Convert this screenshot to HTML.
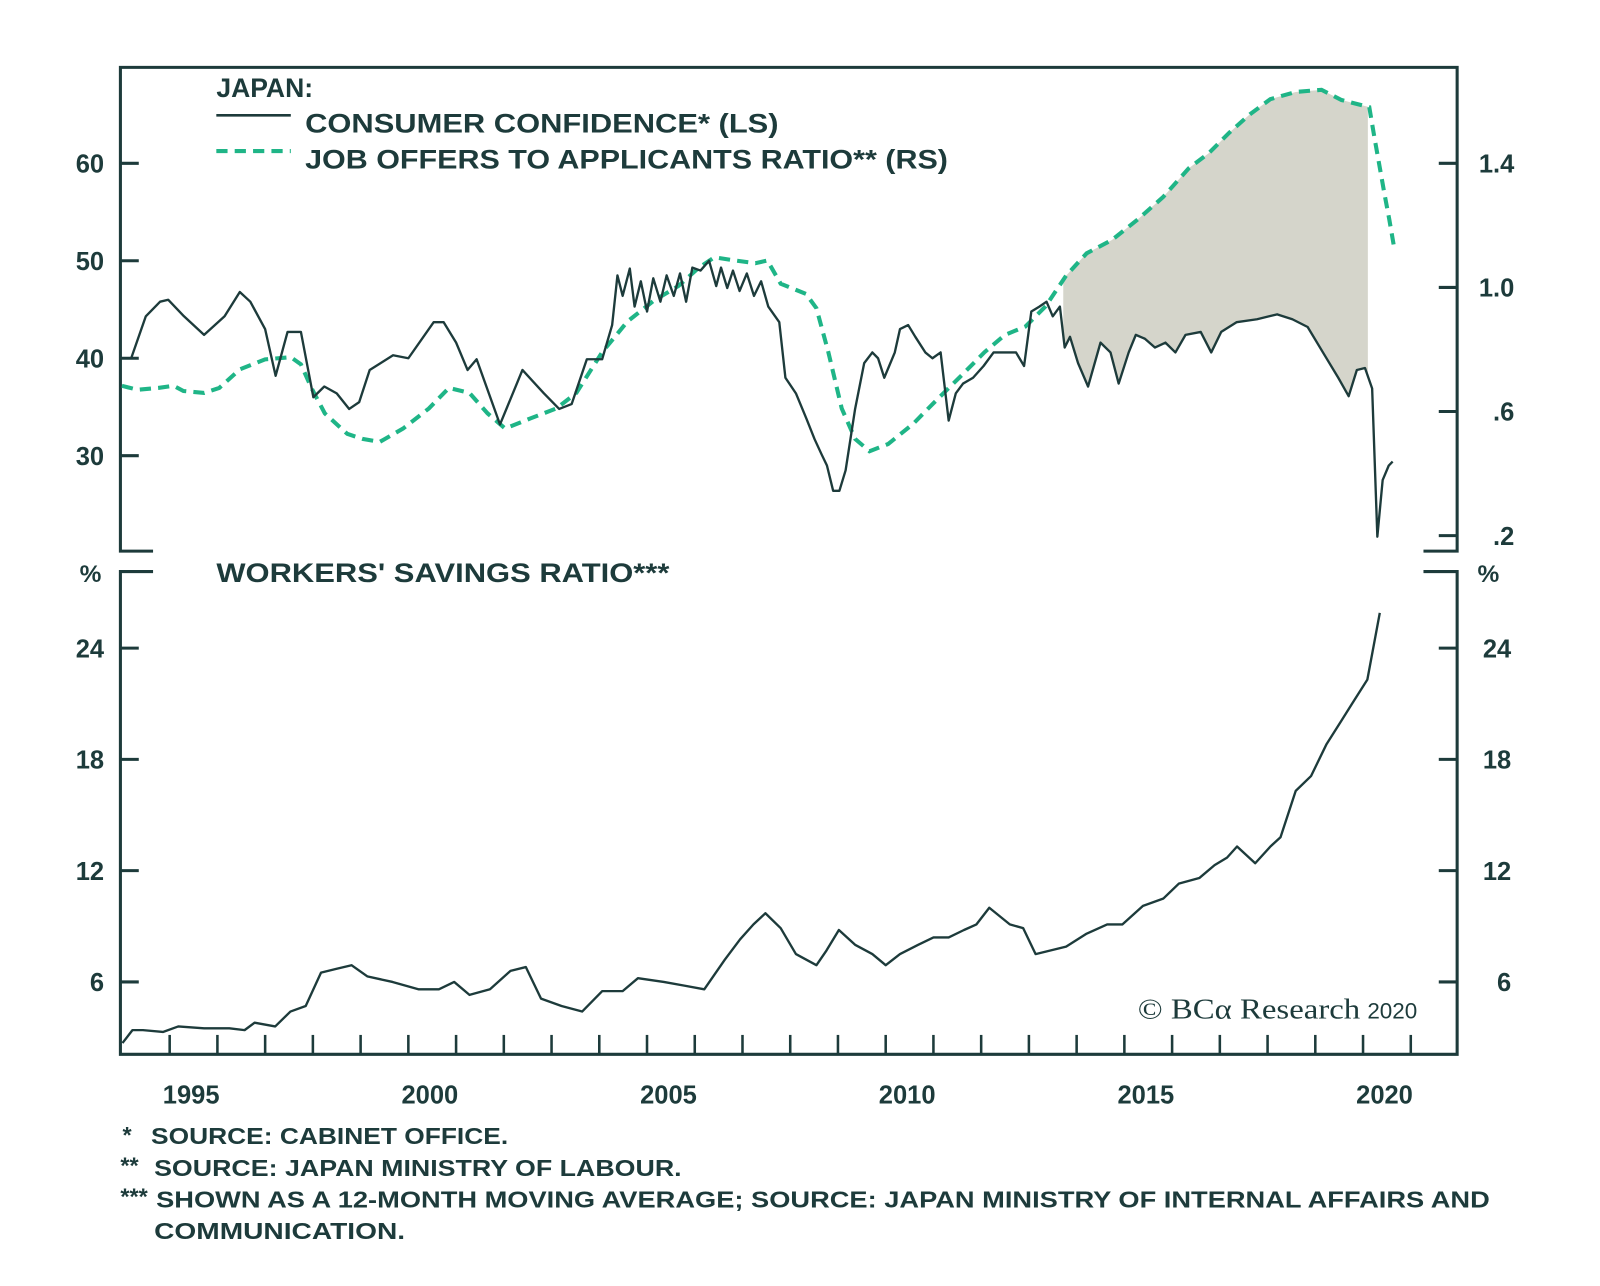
<!DOCTYPE html>
<html><head><meta charset="utf-8">
<style>
html,body{margin:0;padding:0;background:#fff;}
svg{display:block;}
text{font-family:"Liberation Sans",sans-serif;fill:#1d3b3b;font-weight:bold;}
</style></head>
<body>
<svg id="chart" width="1600" height="1286" viewBox="0 0 1568 1260" preserveAspectRatio="none" xmlns="http://www.w3.org/2000/svg">
<g id="frame" stroke="#1d3b3b" stroke-width="3" fill="none">
  <path d="M150,540 L118,540 L118,66 L1428,66 L1428,540 L1395,540"/>
  <path d="M150,560 L118,560 L118,1033 L1428,1033 L1428,560 L1395,560"/>
</g>
<g id="axes"></g>
<g id="series"></g>
<g>
  <text x="212" y="95" font-size="26">JAPAN:</text>
  <line x1="212" y1="113" x2="285" y2="113" stroke="#1d3b3b" stroke-width="2.5"/>
  <text x="299" y="130" font-size="26" textLength="464" lengthAdjust="spacingAndGlyphs">CONSUMER CONFIDENCE* (LS)</text>
  <line x1="212" y1="148" x2="285" y2="148" stroke="#1fb587" stroke-width="4" stroke-dasharray="11,7"/>
  <text x="299" y="165" font-size="26" textLength="630" lengthAdjust="spacingAndGlyphs">JOB OFFERS TO APPLICANTS RATIO** (RS)</text>
</g>
<text x="212" y="570" font-size="26" textLength="444" lengthAdjust="spacingAndGlyphs">WORKERS' SAVINGS RATIO***</text>
<text x="78" y="570" font-size="24">%</text>
<text x="1448" y="570" font-size="24">%</text>
<text x="1115" y="998" font-size="28" style="font-family:'Liberation Serif',serif;font-weight:normal" textLength="218" lengthAdjust="spacingAndGlyphs">© BCα Research</text>
<text x="1340" y="998" font-size="22" style="font-weight:normal">2020</text>
<g font-size="23">
  <text x="120" y="1120">*</text>
  <text x="148" y="1121" textLength="350" lengthAdjust="spacingAndGlyphs">SOURCE: CABINET OFFICE.</text>
  <text x="118" y="1150">**</text>
  <text x="151" y="1152" textLength="517" lengthAdjust="spacingAndGlyphs">SOURCE: JAPAN MINISTRY OF LABOUR.</text>
  <text x="118" y="1180">***</text>
  <text x="153" y="1183" textLength="1307" lengthAdjust="spacingAndGlyphs">SHOWN AS A 12-MONTH MOVING AVERAGE; SOURCE: JAPAN MINISTRY OF INTERNAL AFFAIRS AND</text>
  <text x="151" y="1214" textLength="246" lengthAdjust="spacingAndGlyphs">COMMUNICATION.</text>
</g>
</svg>
<script>
// ---- data ----
const ccTimes = [1994.2,1994.5,1994.8,1994.97,1995.3,1995.72,1996.15,1996.47,1996.69,1997.0,1997.22,1997.47,1997.75,1998.01,1998.24,1998.5,1998.76,1998.97,1999.19,1999.68,2000.0,2000.53,2000.74,2001.0,2001.24,2001.43,2001.92,2002.39,2002.84,2003.16,2003.42,2003.74,2004.06,2004.27,2004.38,2004.49,2004.64,2004.74,2004.87,2005.0,2005.13,2005.28,2005.41,2005.56,2005.69,2005.82,2005.95,2006.12,2006.3,2006.45,2006.55,2006.68,2006.8,2006.94,2007.09,2007.24,2007.39,2007.54,2007.77,2007.9,2008.12,2008.34,2008.51,2008.66,2008.77,2008.9,2009.03,2009.16,2009.36,2009.55,2009.72,2009.84,2009.97,2010.19,2010.3,2010.47,2010.62,2010.83,2010.98,2011.15,2011.32,2011.47,2011.62,2011.83,2012.05,2012.26,2012.47,2012.73,2012.9,2013.05,2013.22,2013.37,2013.5,2013.65,2013.75,2013.86,2014.03,2014.24,2014.5,2014.71,2014.88,2015.09,2015.24,2015.43,2015.64,2015.86,2016.07,2016.28,2016.6,2016.82,2017.03,2017.35,2017.78,2018.2,2018.52,2018.84,2019.16,2019.48,2019.7,2019.87,2020.04,2020.19,2020.3,2020.41,2020.54,2020.62,2020.77];
const ccValues = [40.1,44.3,45.8,46,44.3,42.4,44.3,46.8,45.8,43,38.2,42.7,42.7,36,37.1,36.4,34.8,35.5,38.8,40.3,40,43.7,43.7,41.6,38.8,39.9,33.2,38.8,36.4,34.8,35.3,39.9,39.9,43.4,48.5,46.4,49.2,45.3,47.9,44.8,48.2,45.8,48.5,46.4,48.7,45.8,49.3,49,50,47.4,49.3,47.2,49,46.9,48.7,46.4,47.9,45.3,43.7,38,36.4,33.8,31.7,30.1,29,26.4,26.4,28.5,34.8,39.5,40.6,40,38,40.6,43,43.4,42.2,40.6,40,40.6,33.6,36.4,37.4,38,39.2,40.6,40.6,40.6,39.2,44.8,45.3,45.8,44.3,45.3,41.1,42.2,39.5,37.1,41.6,40.6,37.4,40.6,42.4,42,41.1,41.6,40.6,42.4,42.7,40.6,42.7,43.7,44,44.5,44,43.2,40.6,38,36.1,38.8,39,36.9,21.7,27.5,29,29.4];
const joTimes = [1994.0,1994.33,1994.76,1995.08,1995.29,1995.72,1996.04,1996.47,1997.0,1997.54,1997.75,1997.97,1998.25,1998.72,1999.04,1999.4,1999.89,2000.43,2000.85,2001.28,2001.66,2002.03,2002.56,2003.1,2003.52,2004.06,2004.59,2005.13,2005.66,2006.09,2006.41,2006.84,2007.27,2007.52,2007.8,2008.33,2008.55,2008.8,2009.08,2009.36,2009.66,2010.05,2010.58,2011.0,2011.54,2012.07,2012.5,2012.93,2013.35,2013.78,2014.21,2014.74,2015.28,2015.81,2016.35,2016.77,2017.2,2017.63,2018.06,2018.59,2019.13,2019.55,2020.13,2020.24,2020.45,2020.55,2020.66];
const joValues = [0.683,0.67,0.676,0.683,0.666,0.66,0.676,0.736,0.768,0.775,0.752,0.676,0.594,0.528,0.512,0.502,0.545,0.61,0.676,0.66,0.594,0.545,0.578,0.61,0.66,0.791,0.89,0.956,1.005,1.064,1.097,1.087,1.078,1.087,1.012,0.979,0.933,0.791,0.61,0.512,0.472,0.495,0.561,0.627,0.709,0.791,0.847,0.874,0.939,1.038,1.11,1.153,1.219,1.291,1.384,1.433,1.499,1.558,1.607,1.63,1.637,1.604,1.581,1.482,1.301,1.219,1.12];
const svTimes = [1994.01,1994.22,1994.44,1994.86,1995.18,1995.72,1996.25,1996.57,1996.78,1997.21,1997.53,1997.85,1998.17,1998.49,1998.81,1999.14,1999.67,2000.21,2000.64,2000.96,2001.28,2001.71,2002.14,2002.46,2002.78,2003.21,2003.64,2004.06,2004.49,2004.81,2005.35,2005.78,2006.2,2006.63,2006.95,2007.23,2007.48,2007.8,2008.12,2008.55,2008.76,2009.02,2009.36,2009.72,2010.0,2010.3,2010.68,2011.0,2011.32,2011.64,2011.9,2012.17,2012.6,2012.88,2013.14,2013.46,2013.78,2014.21,2014.64,2014.96,2015.39,2015.82,2016.14,2016.57,2016.89,2017.15,2017.36,2017.74,2018.06,2018.27,2018.59,2018.91,2019.23,2019.55,2019.77,2020.09,2020.2,2020.35];
const svValues = [2.7,3.4,3.4,3.3,3.6,3.5,3.5,3.4,3.8,3.6,4.4,4.7,6.5,6.7,6.9,6.3,6,5.6,5.6,6,5.3,5.6,6.6,6.8,5.1,4.7,4.4,5.5,5.5,6.2,6,5.8,5.6,7.2,8.3,9.1,9.7,8.9,7.5,6.9,7.7,8.8,8,7.5,6.9,7.5,8,8.4,8.4,8.8,9.1,10,9.1,8.9,7.5,7.7,7.9,8.6,9.1,9.1,10.1,10.5,11.3,11.6,12.3,12.7,13.3,12.4,13.3,13.8,16.3,17.1,18.8,20.1,21,22.3,23.8,25.9,27];
const leftTopTicks = [60,50,40,30];
const rightTopTicks = [1.4,1.0,0.6,0.2];
const rightTopLabels = ["1.4","1.0",".6",".2"];
const savingsTicks = [24,18,12,6];
const yearTicks = [1995,1996,1997,1998,1999,2000,2001,2002,2003,2004,2005,2006,2007,2008,2009,2010,2011,2012,2013,2014,2015,2016,2017,2018,2019,2020,2021];
const yearLabels = [1995,2000,2005,2010,2015,2020];
const shadeStart = 2013.72, shadeEnd = 2020.1;

// ---- scales ----
const xs = t => 119.5 + (t - 1994) * 46.78;
const yCC = v => 160 + (60 - v) * 9.55;
const yJO = v => 160 + (1.4 - v) * 304;
const ySV = v => 635 + (24 - v) * 18.17;
const NS = 'http://www.w3.org/2000/svg';
const axes = document.getElementById('axes');
const series = document.getElementById('series');
function mk(tag, attrs, parent){const e=document.createElementNS(NS,tag);for(const k in attrs)e.setAttribute(k,attrs[k]);parent.appendChild(e);return e;}
function pathFrom(ts, vs, ys){return ts.map((t,i)=>(i?'L':'M')+xs(t).toFixed(1)+','+ys(vs[i]).toFixed(1)).join(' ');}
function interp(ts, vs, t){for(let i=1;i<ts.length;i++){if(ts[i]>=t){const f=(t-ts[i-1])/(ts[i]-ts[i-1]);return vs[i-1]+f*(vs[i]-vs[i-1]);}}return vs[vs.length-1];}

// shaded area
(function(){
  const top=[], bot=[];
  top.push([xs(shadeStart), yJO(interp(joTimes,joValues,shadeStart))]);
  joTimes.forEach((t,i)=>{if(t>shadeStart&&t<shadeEnd)top.push([xs(t),yJO(joValues[i])]);});
  top.push([xs(shadeEnd), yJO(interp(joTimes,joValues,shadeEnd))]);
  bot.push([xs(shadeStart), yCC(interp(ccTimes,ccValues,shadeStart))]);
  ccTimes.forEach((t,i)=>{if(t>shadeStart&&t<shadeEnd)bot.push([xs(t),yCC(ccValues[i])]);});
  bot.push([xs(shadeEnd), yCC(interp(ccTimes,ccValues,shadeEnd))]);
  const pts = top.concat(bot.reverse()).map(p=>p[0].toFixed(1)+','+p[1].toFixed(1)).join(' ');
  const poly = mk('polygon',{points:pts,fill:'#d5d5cb'},series);
  
  
})();

const jo = mk('path',{d:pathFrom(joTimes,joValues,yJO),fill:'none',stroke:'#1fb587','stroke-width':4,'stroke-dasharray':'11,7'},series);


const cc = mk('path',{d:pathFrom(ccTimes,ccValues,yCC),fill:'none',stroke:'#1d3b3b','stroke-width':2.3,'stroke-linejoin':'round'},series);


const sv = mk('path',{d:pathFrom(svTimes,svValues,ySV),fill:'none',stroke:'#1d3b3b','stroke-width':2.3,'stroke-linejoin':'round'},series);



// ticks
leftTopTicks.forEach(v=>{
  const y=yCC(v);
  const l=mk('line',{x1:118,x2:136,y1:y,y2:y,stroke:'#1d3b3b','stroke-width':3},axes);
  
  
  const t=mk('text',{x:102,y:y+9,'text-anchor':'end','font-size':25},axes);
  t.textContent=v;
  
  
});
rightTopTicks.forEach((v,i)=>{
  const y=yJO(v);
  const l=mk('line',{x1:1410,x2:1428,y1:y,y2:y,stroke:'#1d3b3b','stroke-width':3},axes);
  
  
  const t=mk('text',{x:1484,y:y+9,'text-anchor':'end','font-size':25},axes);
  t.textContent=rightTopLabels[i];
  
  
});
savingsTicks.forEach(v=>{
  const y=ySV(v);
  const l1=mk('line',{x1:118,x2:136,y1:y,y2:y,stroke:'#1d3b3b','stroke-width':3},axes);
  
  
  const l2=mk('line',{x1:1410,x2:1428,y1:y,y2:y,stroke:'#1d3b3b','stroke-width':3},axes);
  
  
  const t1=mk('text',{x:102,y:y+9,'text-anchor':'end','font-size':25},axes);
  t1.textContent=v;
  
  
  const t2=mk('text',{x:1481,y:y+9,'text-anchor':'end','font-size':25},axes);
  t2.textContent=v;
  
  
});
yearTicks.forEach(yr=>{
  const x=xs(yr);
  const l=mk('line',{x1:x,x2:x,y1:1014,y2:1033,stroke:'#1d3b3b','stroke-width':2.5},axes);
  
  
});
yearLabels.forEach(yr=>{
  const t=mk('text',{x:xs(yr+0.45),y:1081,'text-anchor':'middle','font-size':25},axes);
  t.textContent=yr;
  
  
});
</script>
</body></html>
